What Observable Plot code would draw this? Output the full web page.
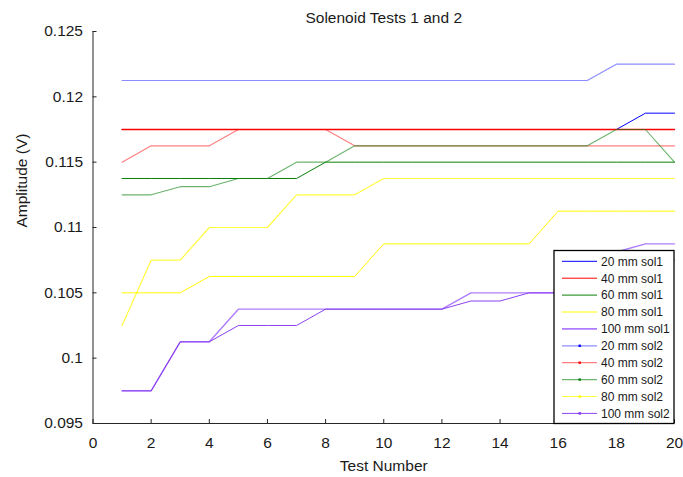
<!DOCTYPE html>
<html><head><meta charset="utf-8">
<script src="https://cdn.jsdelivr.net/npm/d3@7"></script>
<script src="https://cdn.jsdelivr.net/npm/@observablehq/plot@0.6"></script>
<style>body{margin:0;background:#fff} #chart{width:683px;height:477px}</style>
</head><body><div id="chart"></div>
<script>
const title = "Solenoid Tests 1 and 2";
const xLabel = "Test Number";
const yLabel = "Amplitude (V)";
const xTicks = [0, 2, 4, 6, 8, 10, 12, 14, 16, 18, 20];
const yTicks = [0.095, 0.1, 0.105, 0.11, 0.115, 0.12, 0.125];
const tests = [1, 2, 3, 4, 5, 6, 7, 8, 9, 10, 11, 12, 13, 14, 15, 16, 17, 18, 19, 20];

const seriesNames = ["20 mm sol1", "40 mm sol1", "60 mm sol1", "80 mm sol1", "100 mm sol1",
                     "20 mm sol2", "40 mm sol2", "60 mm sol2", "80 mm sol2", "100 mm sol2"];

const blue1   = [0.1175, 0.1175, 0.1175, 0.1175, 0.1175, 0.1175, 0.1175, 0.1175, 0.1175, 0.1175,
                 0.1175, 0.1175, 0.1175, 0.1175, 0.1175, 0.1175, 0.1175, 0.1175, 0.11875, 0.11875];
const red1    = [0.1175, 0.1175, 0.1175, 0.1175, 0.1175, 0.1175, 0.1175, 0.1175, 0.1175, 0.1175,
                 0.1175, 0.1175, 0.1175, 0.1175, 0.1175, 0.1175, 0.1175, 0.1175, 0.1175, 0.1175];
const green1  = [0.11375, 0.11375, 0.11375, 0.11375, 0.11375, 0.11375, 0.11375, 0.115, 0.115, 0.115,
                 0.115, 0.115, 0.115, 0.115, 0.115, 0.115, 0.115, 0.115, 0.115, 0.115];
const yellow1 = [0.105, 0.105, 0.105, 0.10625, 0.10625, 0.10625, 0.10625, 0.10625, 0.10625, 0.10875,
                 0.10875, 0.10875, 0.10875, 0.10875, 0.10875, 0.11125, 0.11125, 0.11125, 0.11125, 0.11125];
const purple1 = [0.0975, 0.0975, 0.10125, 0.10125, 0.10375, 0.10375, 0.10375, 0.10375, 0.10375, 0.10375,
                 0.10375, 0.10375, 0.105, 0.105, 0.105, 0.105, 0.1075, 0.108125, 0.10875, 0.10875];

const blue2   = [0.12125, 0.12125, 0.12125, 0.12125, 0.12125, 0.12125, 0.12125, 0.12125, 0.12125, 0.12125,
                 0.12125, 0.12125, 0.12125, 0.12125, 0.12125, 0.12125, 0.12125, 0.1225, 0.1225, 0.1225];
const red2    = [0.115, 0.11625, 0.11625, 0.11625, 0.1175, 0.1175, 0.1175, 0.1175, 0.11625, 0.11625,
                 0.11625, 0.11625, 0.11625, 0.11625, 0.11625, 0.11625, 0.11625, 0.11625, 0.11625, 0.11625];
const green2  = [0.1125, 0.1125, 0.113125, 0.113125, 0.11375, 0.11375, 0.115, 0.115, 0.11625, 0.11625,
                 0.11625, 0.11625, 0.11625, 0.11625, 0.11625, 0.11625, 0.11625, 0.1175, 0.1175, 0.115];
const yellow2 = [0.1025, 0.1075, 0.1075, 0.11, 0.11, 0.11, 0.1125, 0.1125, 0.1125, 0.11375,
                 0.11375, 0.11375, 0.11375, 0.11375, 0.11375, 0.11375, 0.11375, 0.11375, 0.11375, 0.11375];
const purple2 = [0.0975, 0.0975, 0.10125, 0.10125, 0.1025, 0.1025, 0.1025, 0.10375, 0.10375, 0.10375,
                 0.10375, 0.10375, 0.104375, 0.104375, 0.105, 0.105, 0.10625, 0.10625, 0.1075, 0.1075];

const seriesValues = [blue1, red1, green1, yellow1, purple1, blue2, red2, green2, yellow2, purple2];
const seriesColors = ["#0000ff", "#ff0000", "#0a800a", "#ffff00", "#9a5cff",
                      "#0000ff", "#ff0000", "#0a800a", "#ffff00", "#7f2ef0"];
const seriesOpacity = [1, 1, 1, 1, 0.8, 0.45, 0.5, 0.6, 0.75, 0.9];
const seriesWidth = [1, 1.4, 1, 1, 1.4, 1.2, 1.2, 1.1, 1.2, 1];
const legendWidth = [1, 1, 1, 1, 1.6, 1.3, 1.3, 1.2, 1.2, 1];

const rows = seriesValues.flatMap((vals, s) =>
  vals.map((v, i) => ({s, series: seriesNames[s], test: tests[i], amp: v})));

const W = 683, H = 477, mL = 92.5, mR = 9, mT = 31, mB = 54;
const axisColor = "#262626";

const plot = Plot.plot({
  width: W, height: H,
  marginLeft: mL, marginRight: mR, marginTop: mT, marginBottom: mB,
  style: {fontFamily: "'Liberation Sans', Arial, sans-serif", fontSize: "15.5px", color: axisColor, background: "white"},
  x: {domain: [xTicks[0], xTicks[xTicks.length - 1]]},
  y: {domain: [yTicks[0], yTicks[yTicks.length - 1]]},
  marks: [
    ...seriesValues.map((_, s) => Plot.line(rows.filter(r => r.s === s), {
      x: "test", y: "amp",
      stroke: seriesColors[s], strokeOpacity: seriesOpacity[s], strokeWidth: seriesWidth[s]
    })),
    Plot.axisX(xTicks, {tickSize: 0, tickPadding: 13, label: null, fill: "#1a1a1a"}),
    Plot.axisY(yTicks, {tickSize: 0, tickPadding: 10, label: null, tickFormat: d3.format("~g"), fill: "#1a1a1a"}),
    Plot.ruleX(xTicks, {x: d => d, insetTop: H - mT - mB - 4, stroke: axisColor}),
    Plot.ruleY(yTicks, {y: d => d, insetRight: W - mL - mR - 4, stroke: axisColor}),
    Plot.ruleX([xTicks[0]], {stroke: axisColor}),
    Plot.ruleY([yTicks[0]], {stroke: axisColor}),
    Plot.text([title], {frameAnchor: "top", dy: -13, lineAnchor: "middle", fill: "#1a1a1a"}),
    Plot.text([xLabel], {frameAnchor: "bottom", dy: 43, lineAnchor: "middle", fill: "#1a1a1a"}),
    Plot.text([yLabel], {frameAnchor: "left", dx: -71, rotate: -90, lineAnchor: "middle", fill: "#1a1a1a"})
  ]
});
document.getElementById("chart").appendChild(plot);

// Legend box drawn over the plot's bottom-right corner
const svg = d3.select(plot);
const lx = 554, ly = 250.5, lw = 120, lh = 173, rowStart = 261.3, rowStep = 16.9;
const lg = svg.append("g").attr("text-anchor", "start");
lg.append("rect").attr("x", lx).attr("y", ly).attr("width", lw).attr("height", lh)
  .attr("fill", "white").attr("stroke", "black").attr("stroke-width", 1.3);
seriesNames.forEach((name, s) => {
  const y = rowStart + s * rowStep;
  lg.append("line").attr("x1", 562).attr("x2", 597).attr("y1", y).attr("y2", y)
    .attr("stroke", seriesColors[s]).attr("stroke-opacity", seriesOpacity[s])
    .attr("stroke-width", legendWidth[s]);
  if (s >= 5) {
    lg.append("rect").attr("x", 578.5).attr("y", y - 1.2).attr("width", 2.4).attr("height", 2.4)
      .attr("fill", seriesColors[s]);
  }
  lg.append("text").attr("x", 601).attr("y", y).attr("dy", "0.36em")
    .attr("text-anchor", "start")
    .attr("font-size", "12px").attr("fill", "#1a1a1a").text(name);
});
</script>
</body></html>
